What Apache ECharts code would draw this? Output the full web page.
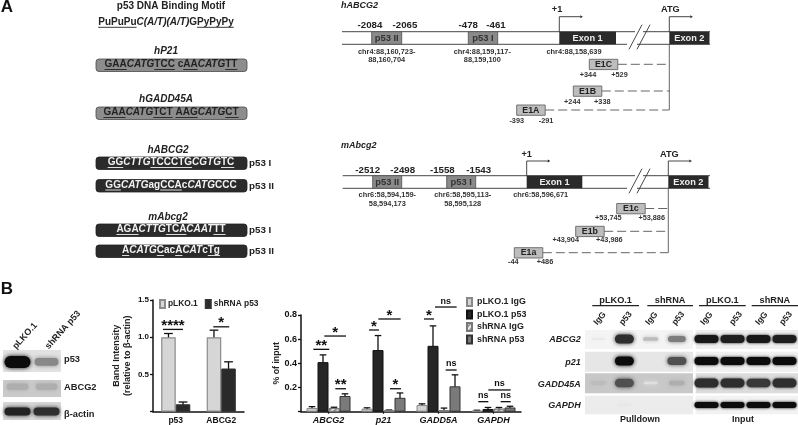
<!DOCTYPE html>
<html><head><meta charset="utf-8">
<style>html,body{margin:0;padding:0;background:#fff}#c{width:798px;height:425px;filter:blur(0.35px)}</style>
<script src="https://cdn.jsdelivr.net/npm/echarts@6/dist/echarts.min.js"></script>
</head><body><div id="c"></div>
<script>
// ---------- data ----------
const blotCats = ['p53','ABCG2'];
const blotCtl = [1.0,1.0];
const blotCtlErr = [1.05,1.095];
const blotSh = [0.1,0.58];
const blotShErr = [0.13,0.67];
const chipCats = ['ABCG2','p21','GADD5A','GAPDH'];
const chipCtlIgG = [0.03,0.025,0.055,0.008];
const chipCtlIgGTop = [0.042,0.032,0.065,0.012];
const chipCtlP53 = [0.41,0.51,0.545,0.022];
const chipCtlP53Top = [0.47,0.63,0.71,0.035];
const chipShIgG = [0.03,0.01,0.012,0.025];
const chipShIgGTop = [0.037,0.014,0.03,0.035];
const chipShP53 = [0.13,0.115,0.21,0.035];
const chipShP53Top = [0.148,0.155,0.305,0.045];
const gelRows = ['ABCG2','p21','GADD45A','GAPDH'];
const gelLanes = ['IgG','p53','IgG','p53'];
const pulldown = [[0.02,0.85,0.22,0.5],[0,1,0,0.7],[0.22,0.7,0.06,0.28],[0,0.03,0.01,0.01]];
const inputBands = [[0.95,0.92,0.95,0.92],[1,1,1,1],[0.85,0.85,0.8,0.85],[1,1,1,1]];
const wbRows = ['p53','ABCG2','β-actin'];
const wbLanes = ['pLKO.1','shRNA p53'];
const wbBands = [[1,0.45],[0.28,0.28],[0.9,0.85]];
const sigBlot = [[0,-0.88,0.5,1.105,'****'],[1,-0.55,0.55,1.14,'*']];
const sigChip = [[0,-1.38,0.07,0.516,'**'],[0,-0.38,1.59,0.626,'*'],[0,0.62,1.59,0.19,'**'],
 [1,-1.32,-0.41,0.676,'*'],[1,-0.47,1.56,0.767,'*'],[1,0.59,1.59,0.19,'*'],
 [2,-1.32,-0.41,0.767,'*'],[2,-0.32,1.65,0.866,'ns'],[2,0.65,1.65,0.345,'ns'],
 [3,-1.38,-0.47,0.083,'ns'],[3,-0.47,1.56,0.18,'ns'],[3,0.65,1.56,0.083,'ns']];
const motifs = [
 {name:'hP21',seq:'_GAA_~CATG~_TCC_ c_AA_~CATG~_TT_',dark:false},
 {name:'hGADD45A',seq:'_GAA_~CATG~_TCT_ _AAG_~CATG~_CT_',dark:false},
 {name:'hABCG2',seq:'_GG_~CTTG~_TCCCTG_~CGTG~_TC_',dark:true,tag:'p53 I'},
 {name:'',seq:'_GG_~CATG~ag_CCA_c~CATG~CCC',dark:true,tag:'p53 II'},
 {name:'mAbcg2',seq:'_AGA_~CTTG~_TCA_~CAAT~_TT_',dark:true,tag:'p53 I'},
 {name:'',seq:'_A_~CATG~_C_ac_A_~CAT~c_Tg_',dark:true,tag:'p53 II'}];

// ---------- helpers ----------
const FF = '"Liberation Sans", Arial, sans-serif';
const g = [];
const mctx = document.createElement('canvas').getContext('2d');
function T(text,x,y,o={}){ g.push({type:'text',x,y,rotation:o.rot||0,z:5,style:{text,fontFamily:FF,fontSize:o.s||9,fontWeight:o.w||'bold',fontStyle:o.i?'italic':'normal',fill:o.c||'#222',align:o.a||'center',verticalAlign:'middle'}}); }
function R(x,y,w,h,fill,stroke,lw,r){ g.push({type:'rect',z:3,shape:{x,y,width:w,height:h,r:r||0},style:{fill,stroke:stroke||null,lineWidth:lw||0}}); }
function BG(x,y,w,h,fill){ g.push({type:'rect',z:0,shape:{x,y,width:w,height:h},style:{fill}}); }
function L(pts,c,lw,dash,z){ g.push({type:'polyline',z:z||2,shape:{points:pts},style:{fill:null,stroke:c||'#333',lineWidth:lw||1,lineDash:dash||null}}); }
function A(x,y){ g.push({type:'polygon',z:3,shape:{points:[[x,y-1.5],[x+2.5,y],[x,y+1.5]]},style:{fill:'#222'}}); }
function seqText(m,cx,cy,color,size){
 let segs=[],cur={t:'',i:false,u:false};
 for(const ch of m){
  if(ch==='_'||ch==='~'){ if(cur.t)segs.push(cur); cur={t:'',i:cur.i,u:cur.u}; if(ch==='_')cur.u=!cur.u; else cur.i=!cur.i; }
  else cur.t+=ch;
 }
 if(cur.t)segs.push(cur);
 let total=0; segs.forEach(s=>{mctx.font=(s.i?'italic ':'')+'bold '+size+'px "Liberation Sans"'; s.w=mctx.measureText(s.t).width; total+=s.w;});
 let x=cx-total/2, x0=x, str='';
 segs.forEach(s=>{ str+='{'+(s.i?'it':'re')+'|'+s.t+'}'; if(s.u)L([[x,cy+4.8],[x+s.w,cy+4.8]],color,0.9,null,4); x+=s.w; });
 const base={fontFamily:FF,fontSize:size,fontWeight:'bold',fill:color};
 g.push({type:'text',x:x0,y:cy,z:5,style:{text:str,fontFamily:FF,fontSize:size,fontWeight:'bold',fill:color,align:'left',verticalAlign:'middle',rich:{re:{...base},it:{...base,fontStyle:'italic'}}}});
}

// ---------- panel A left ----------
T('A',7,7,{s:17,c:'#111'}); T('B',7,289,{s:17,c:'#111'});
T('p53 DNA Binding Motif',171,6,{s:10});
seqText('_PuPuPu_~C(A/T)(A/T)~G_PyPyPy_',166,22.5,'#222',10);
const labY=[51,99.5,150,0,217,0], boxY=[59,107,157,179.5,224,245];
motifs.forEach((m,i)=>{
 if(m.name)T(m.name,i<2?166:168,labY[i],{s:10,i:true});
 R(96,boxY[i],151,12.5,m.dark?'#2b2b2b':'#8d8d8d',m.dark?'#222':'#4a4a4a',0.8,3);
 seqText(m.seq,171,boxY[i]+5.7,m.dark?'#f2f2f2':'#222',10);
 if(m.tag)T(m.tag,249,boxY[i]+6.5,{s:9.8,a:'left'});
});

// ---------- gene schematics ----------
function gene(o){
 T(o.label,341,o.labY,{s:9,i:true,a:'left'});
 const [y1,y2]=o.lines;
 L([[o.x0,y1],[o.sl[0]+6,y1]],'#333',0.9); L([[o.sl[0]+14,y1],[710,y1]],'#333',0.9);
 L([[o.x0,y2],[o.sl[0]-2,y2]],'#333',0.9); L([[o.sl[0]+8,y2],[710,y2]],'#333',0.9);
 L([[o.sl[0],y2+5],[o.sl[0]+13,y1-7]],'#333',0.9); L([[o.sl[0]+8,y2+5],[o.sl[0]+21,y1-7]],'#333',0.9);
 o.sites.forEach(s=>{
  R(s.x,y1,s.w,y2-y1,'#8a8a8a','#5a5a5a',0.9);
  T(s.name,s.x+s.w/2,(y1+y2)/2,{s:9.4,c:'#333'});
  T(s.a,s.ax,o.numY,{s:9.7}); T(s.b,s.bx,o.numY,{s:9.7});
  T(s.chr[0],s.cx,o.chrY[0],{s:7.4,c:'#333'}); if(s.chr[1])T(s.chr[1],s.cx,o.chrY[1],{s:7.4,c:'#333'});
 });
 R(o.ex1[0],y1,o.ex1[1]-o.ex1[0],y2-y1,'#2a2a2a');
 T('Exon 1',(o.ex1[0]+o.ex1[1])/2,(y1+y2)/2,{s:9.2,c:'#eee'});
 R(o.ex2[0],y1,o.ex2[1]-o.ex2[0],y2-y1,'#2a2a2a');
 T('Exon 2',(o.ex2[0]+o.ex2[1])/2,(y1+y2)/2,{s:9.2,c:'#eee'});
 T(o.tss,o.tssChrX,o.chrY[0],{s:7.4,c:'#333'});
 T('+1',o.plusX,o.headY,{s:9.2}); T('ATG',o.ex2[0]+1,o.headY,{s:9.2});
 L([[o.ex1[0],y1],[o.ex1[0],o.arrY],[o.ex1[0]+21,o.arrY]],'#333',0.9); A(o.ex1[0]+21,o.arrY);
 L([[o.ex2[0],y1],[o.ex2[0],o.arrY],[o.ex2[0]+21,o.arrY]],'#333',0.9); A(o.ex2[0]+21,o.arrY);
 L([[o.ex2[0],y2],[o.ex2[0],o.isos[o.isos.length-1].y+5]],'#666',1);
 o.isos.forEach(e=>{
  L([[e.x+28.5,e.y+5],[o.ex2[0],e.y+5]],'#555',0.9,[9,4]);
  R(e.x,e.y,28.5,10.3,'#bdbdbd','#666',0.9);
  T(e.n,e.x+14.2,e.y+5.3,{s:8.8,c:'#222'});
  T(e.a,e.ax,e.ly,{s:7.3,c:'#333'}); T(e.b,e.bx,e.ly,{s:7.3,c:'#333'});
 });
}
gene({label:'hABCG2',labY:5.5,lines:[31.7,44.3],x0:342,sl:[629],numY:25.7,chrY:[51.7,60.3],
 sites:[{name:'p53 II',x:371.7,w:30,a:'-2084',b:'-2065',ax:370,bx:405,cx:386.7,chr:['chr4:88,160,723-','88,160,704']},
        {name:'p53 I',x:468.3,w:29.4,a:'-478',b:'-461',ax:468.3,bx:496,cx:482.3,chr:['chr4:88,159,117-','88,159,100']}],
 ex1:[559.3,616],ex2:[669.3,709.5],tss:'chr4:88,158,639',tssChrX:574,plusX:557,headY:9.5,arrY:16.7,
 isos:[{n:'E1C',x:589.3,y:59.3,a:'+344',b:'+529',ax:588,bx:619.5,ly:75.3},
       {n:'E1B',x:573.3,y:86,a:'+244',b:'+338',ax:572.3,bx:602.3,ly:101.7},
       {n:'E1A',x:516.7,y:105,a:'-393',b:'-291',ax:516.7,bx:546,ly:121.3}]});
gene({label:'mAbcg2',labY:145.7,lines:[175.7,188.3],x0:342.7,sl:[629],numY:170,chrY:[195.3,204],
 sites:[{name:'p53 II',x:372.7,w:29,a:'-2512',b:'-2498',ax:367.7,bx:402.7,cx:387.3,chr:['chr6:58,594,159-','58,594,173']},
        {name:'p53 I',x:446.7,w:29,a:'-1558',b:'-1543',ax:442.3,bx:478.7,cx:462.7,chr:['chr6:58,595,113-','58,595,128']}],
 ex1:[526.7,582.3],ex2:[668.3,708.5],tss:'chr6:58,596,671',tssChrX:540.7,plusX:526.7,headY:154,arrY:161,
 isos:[{n:'E1c',x:616.7,y:203.5,a:'+53,745',b:'+53,886',ax:608.3,bx:651.7,ly:218},
       {n:'E1b',x:575.7,y:226.3,a:'+43,904',b:'+43,986',ax:565.7,bx:609.3,ly:240.3},
       {n:'E1a',x:514.3,y:247.7,a:'-44',b:'+486',ax:513.3,bx:545,ly:262}]});

// ---------- western blot + gel furniture ----------
const rot=48*Math.PI/180;
T(wbLanes[0],25,336,{s:9,rot}); T(wbLanes[1],63,330,{s:9,rot});
BG(3,350,58,22,'#e2e2e2'); BG(3,380,58,17,'#cacaca'); BG(3,402,58,18,'#d8d8d8');
T(wbRows[0],64,359,{s:9.3,a:'left'}); T(wbRows[1],64,387.7,{s:9.3,a:'left'}); T(wbRows[2],64,414,{s:9.3,a:'left'});
[['pLKO.1',592.3,639],['shRNA',647.3,693],['pLKO.1',699,745.7],['shRNA',751.7,798]].forEach(a=>{
 T(a[0],(a[1]+a[2])/2,300,{s:9.2}); L([[a[1],305.7],[a[2],305.7]],'#222',1.3);
});
const rot2=50*Math.PI/180;
[600,625.7,651.7,678.3,706.7,736,761.7,786].forEach((x,i)=>T(gelLanes[i%4],x,318.5,{s:8.5,rot:rot2}));
const gelY=[[330,349],[351.7,371.7],[373.3,393.3],[395.7,414.3]];
const pdBg=['#f4f4f4','#e6e6e6','#c8c8c8','#ececec'], inBg=['#efefef','#f0f0f0','#dcdcdc','#f2f2f2'];
gelRows.forEach((r,i)=>{
 T(r,580.7,[339.3,362.3,384.3,406][i],{s:9,i:true,a:'right'});
 BG(585,gelY[i][0],108,gelY[i][1]-gelY[i][0],pdBg[i]);
 BG(695.7,gelY[i][0],102.3,gelY[i][1]-gelY[i][0],inBg[i]);
});
T('Pulldown',640,419.7,{s:9}); T('Input',743,419.7,{s:9});

// ---------- series helpers ----------
function bandSeries(grid,matrix,bw,bhs,soft,yoff){
 const data=[]; matrix.forEach((row,r)=>row.forEach((v,c)=>{ data.push([c,r,v]); }));
 return {type:'custom',xAxisIndex:grid,yAxisIndex:grid,z:2,silent:true,data,
  renderItem(p,api){
   const v=api.value(2); if(v<=0.005)return;
   const pt=api.coord([api.value(0),api.value(1)]);
   const bh=bhs[api.value(1)];
   const w=bw*(0.7+0.3*Math.min(1,v*1.6)), h=bh*(0.2+0.8*Math.min(1,v*1.2));
   const gray=Math.round(225*(1-v)+12);
   const col='rgb('+gray+','+gray+','+gray+')';
   return {type:'rect',shape:{x:pt[0]-w/2,y:pt[1]+(yoff||0)-h/2,width:w,height:h,r:h/2},
    style:{fill:col,shadowBlur:soft,shadowColor:col}};
  }};
}
function errSeries(gi,cats,tops,idx,n){
 return {type:'custom',xAxisIndex:gi,yAxisIndex:gi,z:1,silent:true,
  data:tops.map((t,i)=>[i,t]),
  renderItem(p,api){
   const band=api.size([1,0])[0], bw=band*(n===4?0.2:0.32);
   const x=api.coord([api.value(0),0])[0]+(idx-(n-1)/2)*bw;
   const top=api.coord([0,api.value(1)])[1], base=api.coord([0,0])[1];
   const s={stroke:'#111',lineWidth:1.3,fill:null};
   return {type:'group',children:[
    {type:'line',shape:{x1:x,y1:base,x2:x,y2:top},style:s},
    {type:'line',shape:{x1:x-bw*0.3,y1:top,x2:x+bw*0.3,y2:top},style:s}]};
  }};
}
function sigSeries(gi,data,barW){
 return {type:'custom',xAxisIndex:gi,yAxisIndex:gi,z:4,silent:true,clip:false,data:data.map(d=>[d[0],d[1],d[2],d[3]]),
  renderItem(p,api){
   const d=data[p.dataIndex];
   const c=api.coord([d[0],d[3]]);
   const x1=c[0]+d[1]*barW, x2=c[0]+d[2]*barW;
   const star=d[4]!=='ns';
   return {type:'group',children:[
    {type:'line',shape:{x1,y1:c[1],x2,y2:c[1]},style:{stroke:'#111',lineWidth:1.3}},
    {type:'text',x:(x1+x2)/2,y:c[1]-(star?3.5:6),style:{text:d[4],align:'center',verticalAlign:'middle',fontFamily:FF,fontWeight:'bold',fontSize:star?15:9,fill:'#111'}}]};
  }};
}
const hidden={show:false};
function hAxes(gi,cats){ return {x:{type:'category',gridIndex:gi,data:cats,show:false},y:{type:'category',gridIndex:gi,inverse:true,show:false,data:null}}; }
const axisLine={show:true,lineStyle:{color:'#111',width:1.5}};
const tick={show:true,length:3,lineStyle:{color:'#111',width:1.3}};
const lab=(s,i,m)=>({fontFamily:FF,fontWeight:'bold',fontSize:s,color:'#111',fontStyle:i?'italic':'normal',margin:m});
const fmt=v=>v===0?'':v.toFixed(1);
const gA=hAxes(2,gelLanes), gB=hAxes(3,gelLanes), gC=hAxes(4,wbLanes);
gA.y.data=gelRows; gB.y.data=gelRows; gC.y.data=wbRows;

const option={
 animation:false,backgroundColor:'#fff',textStyle:{fontFamily:FF},
 grid:[{left:153,top:300,width:91,height:111.7},{left:301,top:315,width:220,height:96.7},
       {left:585,top:328,width:105,height:88},{left:693.5,top:328,width:104,height:88},{left:3,top:350.5,width:58,height:75}],
 xAxis:[
  {type:'category',gridIndex:0,data:blotCats,axisLine,axisTick:{show:false},axisLabel:lab(8.5,false,4)},
  {type:'category',gridIndex:1,data:chipCats,axisLine,axisTick:{show:true,length:2,alignWithLabel:true,lineStyle:{color:'#111',width:1.2}},axisLabel:lab(9,true,4)},
  {...gA.x},{...gB.x,gridIndex:3},{...gC.x}],
 yAxis:[
  {type:'value',gridIndex:0,min:0,max:1.5,interval:0.5,axisLine,axisTick:tick,splitLine:hidden,axisLabel:{...lab(8,false,4),formatter:fmt},
   name:'Band Intensity\n(relative to β-actin)',nameLocation:'middle',nameGap:20,nameTextStyle:{fontFamily:FF,fontWeight:'bold',fontSize:9,color:'#222',lineHeight:11}},
  {type:'value',gridIndex:1,min:0,max:0.8,interval:0.2,axisLine,axisTick:tick,splitLine:hidden,axisLabel:{...lab(9,false,4),formatter:fmt},
   name:'% of input',nameLocation:'middle',nameGap:17,nameTextStyle:{fontFamily:FF,fontWeight:'bold',fontSize:8.8,color:'#222'}},
  {...gA.y},{...gB.y,gridIndex:3},{...gC.y}],
 legend:[
  {data:['pLKO.1','shRNA p53'],left:159,top:299,itemWidth:5,itemHeight:8,itemGap:7,selectedMode:false,icon:'rect',padding:0,textStyle:{fontFamily:FF,fontWeight:'bold',fontSize:8.4,color:'#222',padding:[0,0,0,-2]}},
  {data:['pLKO.1 IgG','pLKO.1 p53','shRNA IgG','shRNA p53 '],orient:'vertical',left:466,top:297,itemWidth:5,itemHeight:8,itemGap:2.5,selectedMode:false,icon:'rect',padding:0,textStyle:{fontFamily:FF,fontWeight:'bold',fontSize:8.9,color:'#222',lineHeight:10}}],
 series:[
  {name:'pLKO.1',type:'bar',xAxisIndex:0,yAxisIndex:0,data:blotCtl,barCategoryGap:'36%',barGap:0,z:3,itemStyle:{color:'#d6d6d6',borderColor:'#8c8c8c',borderWidth:1.2}},
  {name:'shRNA p53',type:'bar',xAxisIndex:0,yAxisIndex:0,data:blotSh,z:3,itemStyle:{color:'#2a2a2a',borderColor:'#333',borderWidth:1}},
  errSeries(0,blotCats,blotCtlErr,0,2),errSeries(0,blotCats,blotShErr,1,2),sigSeries(0,sigBlot,14.5),
  {name:'pLKO.1 IgG',type:'bar',xAxisIndex:1,yAxisIndex:1,data:chipCtlIgG,barCategoryGap:'20%',barGap:0,z:3,itemStyle:{color:'#d2d2d2',borderColor:'#888',borderWidth:1}},
  {name:'pLKO.1 p53',type:'bar',xAxisIndex:1,yAxisIndex:1,data:chipCtlP53,z:3,itemStyle:{color:'#262626',borderColor:'#111',borderWidth:1}},
  {name:'shRNA IgG',type:'bar',xAxisIndex:1,yAxisIndex:1,data:chipShIgG,z:3,itemStyle:{color:'#9a9a9a',borderColor:'#777',borderWidth:1,decal:{symbol:'rect',dashArrayX:[1,0],dashArrayY:[1.5,1.5],rotation:-Math.PI/4,color:'#eeeeee'}}},
  {name:'shRNA p53 ',type:'bar',xAxisIndex:1,yAxisIndex:1,data:chipShP53,z:3,itemStyle:{color:'#7a7a7a',borderColor:'#333',borderWidth:1}},
  errSeries(1,chipCats,chipCtlIgGTop,0,4),errSeries(1,chipCats,chipCtlP53Top,1,4),errSeries(1,chipCats,chipShIgGTop,2,4),errSeries(1,chipCats,chipShP53Top,3,4),
  sigSeries(1,sigChip,11),
  bandSeries(2,pulldown,19,[9,9,10,9],4,0),bandSeries(3,inputBands,24,[8,8,9,6],3,0),bandSeries(4,wbBands,26,[12,14,8],4,-1)
 ],
 graphic:{elements:g}
};
echarts.init(document.getElementById('c'),null,{renderer:'canvas',width:798,height:425}).setOption(option);
</script></body></html>
